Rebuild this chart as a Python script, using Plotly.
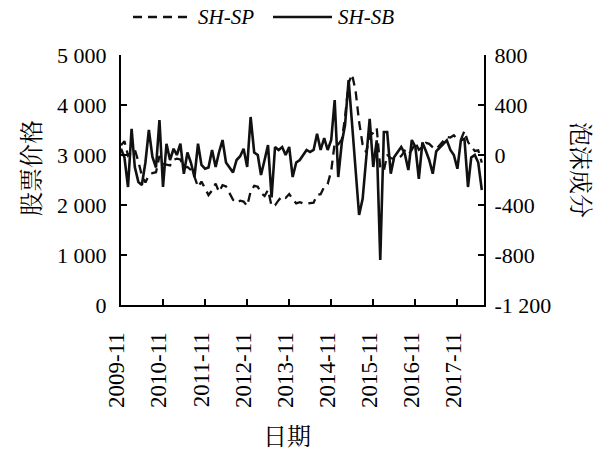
import pandas as pd
import plotly.graph_objects as go

# ---------------- data ----------------
dates = pd.date_range("2009-11-01", periods=104, freq="MS")

# SH-SP : Shanghai stock price (left axis)
sh_sp = [
    3195, 3277,
    2989, 3051, 3109, 2870, 2592, 2450, 2600, 2638, 2656, 2979, 2820, 2808,
    2790, 2905, 2928, 2911, 2743, 2762, 2701, 2568, 2359, 2468, 2333, 2199,
    2292, 2428, 2262, 2397, 2373, 2225, 2103, 2047, 2086, 2069, 1980, 2269,
    2385, 2366, 2237, 2178, 2301, 1979, 1994, 2098, 2175, 2141, 2220, 2116,
    2033, 2056, 2033, 2026, 2039, 2048, 2202, 2217, 2364, 2420, 2683, 3235,
    3210, 3310, 3748, 4442, 4612, 4277, 3664, 3206, 3053, 3383, 3445, 3539,
    2738, 2688, 3004, 2938, 2917, 2930, 2979, 3085, 3005, 3100, 3250, 3104,
    3159, 3242, 3223, 3155, 3117, 3192, 3273, 3361, 3349, 3393, 3317, 3307,
    3481, 3259, 3169, 3082, 3095, 2847,
]

# SH-SB : bubble component (right axis)
sh_sb = [
    50, -20, -256, 210, -96, -216, -240, -60, 200, -16, -100, 280,
    -256, 90, -40, 50, 0, 90, -150, 20, -60, -176, 90, -80,
    -110, -100, 40, -96, 20, 120, -60, -100, -140, -40, -10, 50,
    -96, 304, 20, 0, -160, -40, 80, -340, 64, 40, 64, 0,
    64, -176, -60, -40, 0, 40, 24, 40, 170, 40, 136, 40,
    120, 440, -176, 100, 240, 600, 250, -150, -480, -350, 0, 290,
    -96, 117, -840, 184, 184, -150, -16, 20, 64, 10, -120, 120,
    64, -190, 100, 30, -40, -150, 30, 60, 90, 117, 40, 0,
    -110, 117, 130, -256, -20, 0, -60, -280,
]

x_tick_vals = [f"{y}-11-01" for y in range(2009, 2018)]
x_tick_text = [f"{y}-11" for y in range(2009, 2018)]
y_left_vals = [0, 1000, 2000, 3000, 4000, 5000]
y_left_text = ["0", "1 000", "2 000", "3 000", "4 000", "5 000"]
y_right_vals = [-1200, -800, -400, 0, 400, 800]
y_right_text = ["-1 200", "-800", "-400", "0", "400", "800"]

series_names = ["SH-SP", "SH-SB"]

# ---------------- figure ----------------
SERIF = "Liberation Serif, Times New Roman, serif"
CJK = "Noto Serif CJK SC, Noto Sans CJK SC, serif"

fig = go.Figure()
fig.add_trace(go.Scatter(
    x=dates, y=sh_sp, mode="lines", name=series_names[0],
    line=dict(color="#111111", width=2.3, dash="9px,6px"), yaxis="y"))
fig.add_trace(go.Scatter(
    x=dates, y=sh_sb, mode="lines", name=series_names[1],
    line=dict(color="#111111", width=2.6), yaxis="y2"))

L, R, T, B = 121, 119, 55, 147
W, H = 603, 452
pw, ph = W - L - R, H - T - B


def px(xp):
    return (xp - L) / pw


def py(yp):
    return (H - B - yp) / ph


axis_common = dict(showline=True, linewidth=2, linecolor="black",
                   ticks="inside", ticklen=6, tickwidth=2, tickcolor="black",
                   showgrid=False, zeroline=False)

fig.update_layout(
    width=W, height=H,
    margin=dict(l=L, r=R, t=T, b=B),
    plot_bgcolor="white", paper_bgcolor="white",
    showlegend=False,
    font=dict(family=SERIF, size=22, color="black"),
    xaxis=dict(type="date", range=["2009-11-01", "2018-06-20"],
               tickmode="array", tickvals=x_tick_vals, ticktext=x_tick_text,
               tickangle=-90, ticklabelstandoff=16, ticklabelshift=-4,
               tickfont=dict(size=23), **axis_common),
    yaxis=dict(range=[0, 5000], tickmode="array", tickvals=y_left_vals,
               ticktext=y_left_text, ticklabelstandoff=8, **axis_common),
    yaxis2=dict(range=[-1200, 800], tickmode="array", tickvals=y_right_vals,
                ticktext=y_right_text, overlaying="y", side="right",
                ticklabelstandoff=4, **axis_common),
)

# axis titles
fig.add_annotation(text="日期", xref="paper", yref="paper", x=px(287), y=py(434),
                   xanchor="center", yanchor="middle",
                   showarrow=False, font=dict(family=CJK, size=24))
fig.add_annotation(text="股票价格", xref="paper", yref="paper", x=px(29), y=py(168),
                   xanchor="center", yanchor="middle",
                   textangle=-90, showarrow=False, font=dict(family=CJK, size=24))
fig.add_annotation(text="泡沫成分", xref="paper", yref="paper", x=px(583), y=py(170),
                   xanchor="center", yanchor="middle",
                   textangle=90, showarrow=False, font=dict(family=CJK, size=24))

# legend (drawn manually)
ly = py(17)
fig.add_shape(type="line", xref="paper", yref="paper", x0=px(133), x1=px(187),
              y0=ly, y1=ly, line=dict(color="#111111", width=2.3, dash="9px,6px"))
fig.add_annotation(text=f"<i>{series_names[0]}</i>", xref="paper", yref="paper",
                   x=px(196), y=ly, xanchor="left", yanchor="middle", showarrow=False,
                   font=dict(family=SERIF, size=21))
fig.add_shape(type="line", xref="paper", yref="paper", x0=px(273), x1=px(332),
              y0=ly, y1=ly, line=dict(color="#111111", width=2.6))
fig.add_annotation(text=f"<i>{series_names[1]}</i>", xref="paper", yref="paper",
                   x=px(336), y=ly, xanchor="left", yanchor="middle", showarrow=False,
                   font=dict(family=SERIF, size=21))

fig.write_html("out.html")
